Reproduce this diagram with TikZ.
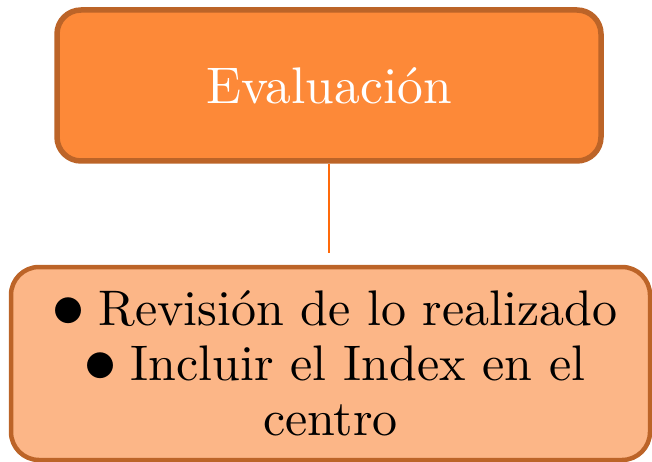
\documentclass[tikz,border=0pt]{standalone}
\usepackage{fontspec}
\setmainfont{lmroman10-regular.otf}
\usepackage{graphicx}
\usepackage{tikz}
\usetikzlibrary{positioning}
\definecolor{myorange}{RGB}{253,137,56}
\definecolor{mypeach}{RGB}{252,182,135}
\definecolor{myrust}{RGB}{188,100,40}
\definecolor{myline}{RGB}{255,106,10}
\newcommand{\bigdot}{\hspace*{-0.2em}\raisebox{-0.12em}{\scalebox{1.8}{\textbullet}}\hspace{-0.1em}}
\tikzstyle{link} = [line width=2.2pt, myline]

\begin{document}
\begin{tikzpicture}[x=1pt, y=-1pt, topbox/.style={draw=myrust, line width=5.5pt, fill=myorange, rounded corners=24pt, minimum width=544pt, minimum height=151pt, text=white, font=\fontsize{51.5}{55}\selectfont}, subbox/.style={draw=myrust, line width=4.5pt, fill=mypeach, rounded corners=28pt, minimum width=639pt, minimum height=193pt, text width=630pt, align=center, inner sep=0pt, font=\fontsize{50}{55}\selectfont}]
    \useasboundingbox (0,0) rectangle (652,462);
    \node[topbox] (eval) at (329,85.5) {Evaluaci\'on};
    \node[subbox] (tasks) at (330.5,363.5) {\bigdot Revisi\'on de lo realizado\\ \bigdot Incluir el Index en el\\ centro};
    \draw[link] (eval.south) -- ++(0,89);
\end{tikzpicture}
\end{document}
